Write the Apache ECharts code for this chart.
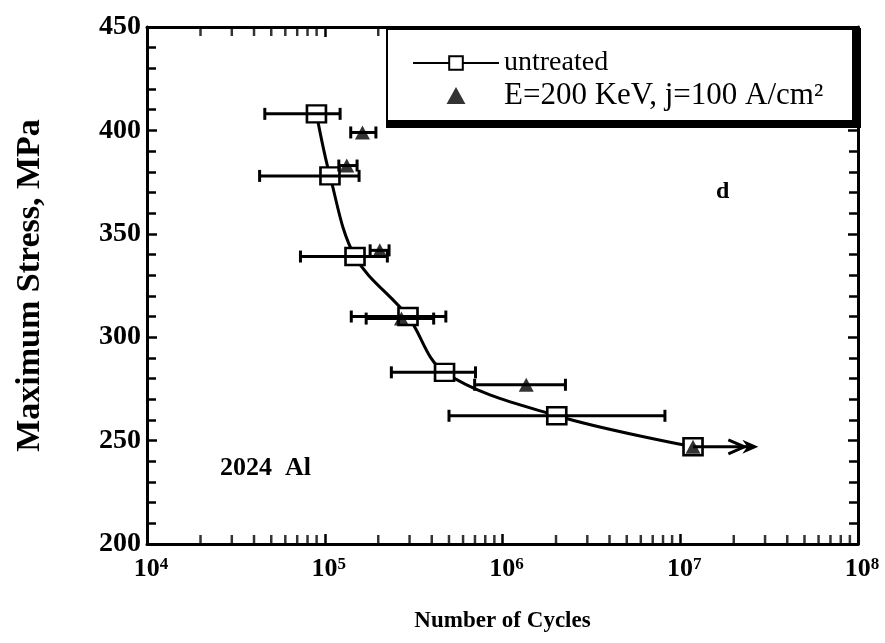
<!DOCTYPE html>
<html><head><meta charset="utf-8">
<script src="https://cdn.jsdelivr.net/npm/echarts@6/dist/echarts.min.js"></script>
<style>html,body{margin:0;padding:0;background:#fff}#c{width:885px;height:643px}</style>
</head><body><div id="c"></div>
<script>
// ---- data ----
const untreatedCycles = [8.98e4, 1.07e5, 1.48e5, 2.94e5, 4.72e5, 2.02e6, 1.18e7];
const untreatedStress = [408, 378, 339, 310, 283, 262, 247];
const untreatedErrLow = [4.6e4, 4.3e4, 7.3e4, 1.41e5, 2.37e5, 5.0e5];
const untreatedErrHigh = [1.22e5, 1.56e5, 2.25e5, 4.8e5, 7.05e5, 8.2e6];
const treatedCycles = [1.63e5, 1.33e5, 2.04e5, 2.7e5, 1.36e6, 1.18e7];
const treatedStress = [399, 383, 342, 309, 277, 247];
const treatedErrLow = [1.40e5, 1.2e5, 1.8e5, 1.71e5, 6.97e5];
const treatedErrHigh = [1.94e5, 1.52e5, 2.3e5, 4.1e5, 2.26e6];
const runoutStart = [1.18e7, 247];
const runoutEnd = 2.75e7;
const yTickValues = [200, 250, 300, 350, 400, 450];
const xDecadeExponents = [4, 5, 6, 7, 8];
const xMinorMultipliers = [2, 3, 4, 5, 6, 7, 8, 9];
const nameUntreated = 'untreated';
const nameTreated = 'E=200 KeV, j=100 A/cm²';

const SERIF = '"Liberation Serif", "DejaVu Serif", serif';

const untreatedPts = untreatedCycles.map((x, i) => [x, untreatedStress[i]]);
const treatedPts = treatedCycles.map((x, i) => [x, treatedStress[i]]);
const untreatedErr = untreatedErrLow.map((lo, i) => [lo, untreatedErrHigh[i], untreatedStress[i]]);
const treatedErr = treatedErrLow.map((lo, i) => [lo, treatedErrHigh[i], treatedStress[i]]);

const minorBottom = [], minorTop = [];
xDecadeExponents.slice(0, -1).forEach(e => {
  xMinorMultipliers.forEach(m => {
    minorBottom.push([m * Math.pow(10, e), yTickValues[0]]);
    minorTop.push([m * Math.pow(10, e), yTickValues[yTickValues.length - 1]]);
  });
});

function errRender(params, api) {
  const lo = api.value(0), hi = api.value(1), y = api.value(2);
  const p1 = api.coord([lo, y]), p2 = api.coord([hi, y]);
  const h = 6;
  const style = { stroke: '#000', lineWidth: 3, fill: null };
  return { type: 'group', children: [
    { type: 'line', shape: { x1: p1[0], y1: p1[1], x2: p2[0], y2: p2[1] }, style },
    { type: 'line', shape: { x1: p1[0], y1: p1[1] - h, x2: p1[0], y2: p1[1] + h }, style },
    { type: 'line', shape: { x1: p2[0], y1: p2[1] - h, x2: p2[0], y2: p2[1] + h }, style }
  ]};
}

function arrowRender(params, api) {
  const x0 = api.value(0), y = api.value(1), x1 = api.value(2);
  const a = api.coord([x0, y]), b = api.coord([x1, y]);
  const s = { stroke: '#000', lineWidth: 3, fill: null };
  const L = 16, H = 7;
  return { type: 'group', children: [
    { type: 'line', shape: { x1: a[0], y1: a[1], x2: b[0] - 4, y2: b[1] }, style: s },
    { type: 'polyline', shape: { points: [[b[0] - 14 - L, b[1] - H], [b[0] - 14, b[1]], [b[0] - 14 - L, b[1] + H]] }, style: s },
    { type: 'polygon', shape: { points: [[b[0] - L, b[1] - H], [b[0], b[1]], [b[0] - L, b[1] + H], [b[0] - L + 5, b[1]]] }, style: { fill: '#000' } }
  ]};
}

const chart = echarts.init(document.getElementById('c'), null, { renderer: 'canvas' });

const axisLineStyle = { show: true, lineStyle: { color: '#000', width: 3 } };
const tickInside = { show: true, inside: true, length: 10, lineStyle: { color: '#000', width: 2.5 } };

chart.setOption({
  backgroundColor: '#fff',
  animation: false,
  grid: { left: 147, right: 27, top: 27, bottom: 99 },
  legend: {
    orient: 'vertical', left: 412, top: 49, z: 101,
    itemWidth: 86, itemHeight: 17, itemGap: 3, itemTextGap: 2,
    padding: 0,
    textStyle: {
      fontFamily: SERIF, fontSize: 29, color: '#000',
      rich: {
        u: { fontFamily: SERIF, fontSize: 28, color: '#000' },
        e: { fontFamily: SERIF, fontSize: 31, color: '#000' }
      }
    },
    formatter: n => (n === nameTreated ? '{e|' : '{u|') + n + '}',
    data: [
      { name: nameUntreated },
      { name: nameTreated, icon: 'path://M5,0 L10,9 L0,9 Z' }
    ]
  },
  xAxis: [{
    type: 'log', logBase: 10, min: 1e4, max: 1e8,
    name: 'Number of Cycles', nameLocation: 'middle', nameGap: 66,
    nameTextStyle: { fontFamily: SERIF, fontSize: 23, fontWeight: 'bold', color: '#000' },
    axisLine: axisLineStyle, axisTick: tickInside, splitLine: { show: false },
    axisLabel: {
      margin: 12, showMinLabel: true, showMaxLabel: true,
      formatter: v => '{b|10}{s|' + Math.round(Math.log10(v)) + '}',
      rich: {
        b: { fontFamily: SERIF, fontSize: 26, fontWeight: 'bold', color: '#000', padding: [0, 0, 0, 8] },
        s: { fontFamily: SERIF, fontSize: 17, fontWeight: 'bold', color: '#000', verticalAlign: 'top' }
      }
    }
  }, {
    type: 'log', logBase: 10, min: 1e4, max: 1e8, position: 'top',
    axisLine: axisLineStyle, axisTick: tickInside, axisLabel: { show: false }, splitLine: { show: false }
  }],
  yAxis: [{
    type: 'value', min: 200, max: 450, interval: 50,
    name: 'Maximum Stress, MPa', nameLocation: 'middle', nameGap: 100,
    nameTextStyle: { fontFamily: SERIF, fontSize: 34, fontWeight: 'bold', color: '#000' },
    axisLine: axisLineStyle, axisTick: tickInside,
    minorTick: { show: true, splitNumber: 5, length: 9, lineStyle: { color: '#000', width: 2.5 } },
    splitLine: { show: false },
    axisLabel: { margin: 6, fontFamily: SERIF, fontSize: 28, fontWeight: 'bold', color: '#000' }
  }, {
    type: 'value', min: 200, max: 450, interval: 50, position: 'right',
    axisLine: axisLineStyle, axisTick: tickInside,
    minorTick: { show: true, splitNumber: 5, length: 9, lineStyle: { color: '#000', width: 2.5 } },
    axisLabel: { show: false }, splitLine: { show: false }
  }],
  series: [
    {
      name: nameUntreated, type: 'line', data: untreatedPts, smooth: 0.35,
      symbol: 'rect', symbolSize: [19, 17], z: 3,
      lineStyle: { color: '#000', width: 3 },
      itemStyle: { color: '#fff', borderColor: '#000', borderWidth: 2.5 }
    },
    {
      name: nameTreated, type: 'scatter', data: treatedPts,
      symbol: 'triangle', symbolSize: [15, 14], z: 5,
      itemStyle: { color: '#000' }
    },
    { type: 'custom', name: 'errU', renderItem: errRender, data: untreatedErr, encode: { x: [0, 1], y: 2 }, z: 4, silent: true },
    { type: 'custom', name: 'errT', renderItem: errRender, data: treatedErr, encode: { x: [0, 1], y: 2 }, z: 4, silent: true },
    { type: 'custom', name: 'runout', renderItem: arrowRender, data: [[runoutStart[0], runoutStart[1], runoutEnd]], encode: { x: [0, 2], y: 1 }, z: 4, silent: true },
    { type: 'scatter', name: 'minorB', data: minorBottom, symbol: 'rect', symbolSize: [2.5, 9], symbolOffset: [0, -4.5], itemStyle: { color: '#000' }, clip: false, silent: true, z: 6 },
    { type: 'scatter', name: 'minorT', data: minorTop, symbol: 'rect', symbolSize: [2.5, 9], symbolOffset: [0, 4.5], itemStyle: { color: '#000' }, clip: false, silent: true, z: 6 }
  ],
  graphic: [
    { type: 'rect', z: 100, shape: { x: 387, y: 29, width: 473, height: 98 }, style: { fill: '#fff', stroke: '#000', lineWidth: 2 } },
    { type: 'rect', z: 100, shape: { x: 387, y: 120, width: 473, height: 7 }, style: { fill: '#000' } },
    { type: 'rect', z: 100, shape: { x: 852, y: 29, width: 8, height: 98 }, style: { fill: '#000' } },
    { type: 'text', left: 716, top: 180, style: { text: 'd', font: 'bold 24px ' + SERIF, fill: '#000' } },
    { type: 'text', left: 220, top: 455, style: { text: '2024  Al', font: 'bold 26px ' + SERIF, fill: '#000' } }
  ]
});
</script>
</body></html>
